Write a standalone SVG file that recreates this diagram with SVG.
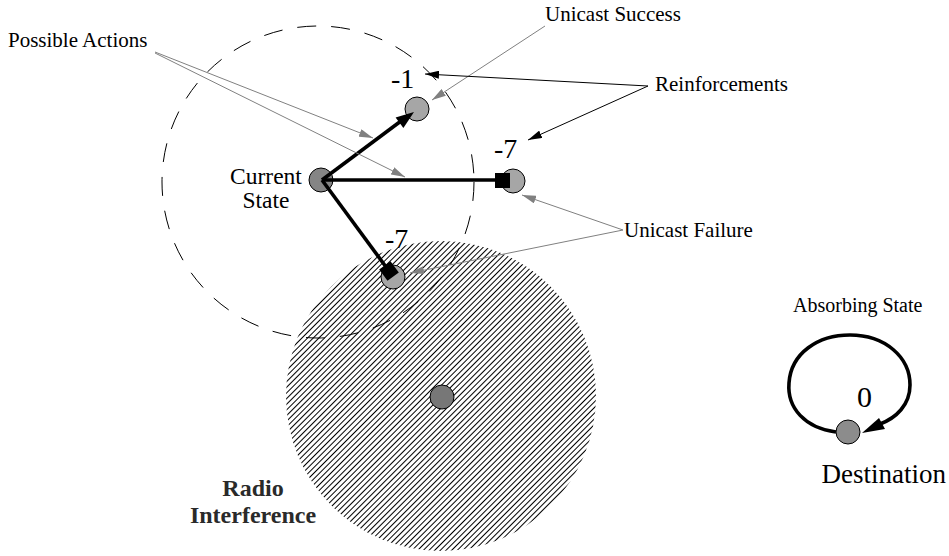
<svg xmlns="http://www.w3.org/2000/svg" width="949" height="556" viewBox="0 0 949 556">
<style>
text{font-family:"Liberation Serif","Times New Roman",serif;fill:#000}
.lbl{font-size:21px}
.big{font-size:28px}
.thin-g{stroke:#808080;stroke-width:1;fill:none}
.thin-b{stroke:#000;stroke-width:1;fill:none}
.thick{stroke:#000;stroke-width:3.6;fill:none}
.nd{stroke:#000;stroke-width:1}
.light{fill:#a6a6a6}
.dark{fill:#858585}
</style>
<defs>
<pattern id="hatch" width="4" height="10" patternUnits="userSpaceOnUse" patternTransform="rotate(45)">
<line x1="0.5" y1="0" x2="0.5" y2="10" stroke="#000" stroke-width="1" shape-rendering="crispEdges"/>
</pattern>
<marker id="ag" viewBox="0 0 14 8" refX="14" refY="4" markerWidth="14" markerHeight="8" markerUnits="userSpaceOnUse" orient="auto">
<path d="M0,0 L14,4 L0,8 z" fill="#808080"/>
</marker>
<marker id="ab" viewBox="0 0 14 8" refX="14" refY="4" markerWidth="14" markerHeight="8" markerUnits="userSpaceOnUse" orient="auto">
<path d="M0,0 L14,4 L0,8 z" fill="#000"/>
</marker>
</defs>
<rect width="949" height="556" fill="#fff"/>

<g id="radio-interference">
<circle cx="441" cy="396" r="155" fill="url(#hatch)"/>
</g>
<g id="range">
<circle cx="318" cy="182" r="156" fill="none" stroke="#000" stroke-width="1" stroke-dasharray="19,15"/>
</g>

<g id="current-state">
<circle class="nd dark" cx="321" cy="180" r="12"/>
<text class="lbl" x="266" y="184" text-anchor="middle" style="font-size:23.5px">Current</text>
<text class="lbl" x="266" y="208" text-anchor="middle" style="font-size:23.5px">State</text>
</g>
<g id="success-node">
<circle class="nd light" cx="417" cy="109" r="12"/>
<text class="big" x="391" y="88">-1</text>
</g>
<g id="failure-node-right">
<circle class="nd light" cx="513" cy="181" r="12"/>
<text class="big" x="494" y="158">-7</text>
</g>
<g id="failure-node-bottom">
<circle class="nd light" cx="393" cy="277" r="12"/>
<text class="big" x="385" y="248">-7</text>
</g>
<g id="interferer">
<circle class="nd" cx="442" cy="397" r="12" fill="#777"/>
</g>
<g id="destination">
<circle class="nd" cx="848" cy="432" r="12" fill="#8c8c8c"/>
<text x="857" y="407" style="font-size:30px">0</text>
<text x="946" y="483" text-anchor="end" style="font-size:27px">Destination</text>
</g>

<g id="connectors">
<line class="thick" x1="322" y1="180" x2="401" y2="121"/>
<polygon points="414,112 403.4,127.9 395.6,117.5" fill="#000"/>
<line class="thick" x1="322" y1="180" x2="497" y2="180"/>
<rect x="495" y="173" width="15" height="15" fill="#000"/>
<line class="thick" x1="322" y1="180" x2="389" y2="271"/>
<rect x="382" y="264" width="14" height="14" fill="#000" transform="rotate(53.8 389 271)"/>

<line class="thin-g" x1="155" y1="52" x2="373" y2="138" marker-end="url(#ag)"/>
<line class="thin-g" x1="155" y1="53" x2="405" y2="177" marker-end="url(#ag)"/>
<line class="thin-g" x1="545" y1="26" x2="432" y2="100" marker-end="url(#ag)"/>
<line class="thin-b" x1="648" y1="86" x2="425" y2="74" marker-end="url(#ab)"/>
<line class="thin-b" x1="648" y1="86" x2="528" y2="140" marker-end="url(#ab)"/>
<line class="thin-g" x1="623" y1="230" x2="522" y2="195" marker-end="url(#ag)"/>
<line class="thin-g" x1="623" y1="230" x2="410" y2="273" marker-end="url(#ag)"/>

<path class="thick" d="M836,432 C805,428 787,408 789,383 C791,353 818,335 850,335 C885,335 910,357 910,385 C910,405 896,418 880,424"/>
<polygon points="862,433 879,418 885,429" fill="#000"/>
</g>

<g id="labels">
<text class="lbl" x="8" y="47">Possible Actions</text>
<text class="lbl" x="545" y="21">Unicast Success</text>
<text class="lbl" x="655" y="91">Reinforcements</text>
<text class="lbl" x="624" y="237">Unicast Failure</text>
<text x="793" y="312" style="font-size:20px">Absorbing State</text>
<text x="253" y="496" text-anchor="middle" style="font-size:24px;font-weight:bold;fill:#2a2a2a">Radio</text>
<text x="253" y="523" text-anchor="middle" style="font-size:24px;font-weight:bold;fill:#2a2a2a">Interference</text>
</g>
</svg>
